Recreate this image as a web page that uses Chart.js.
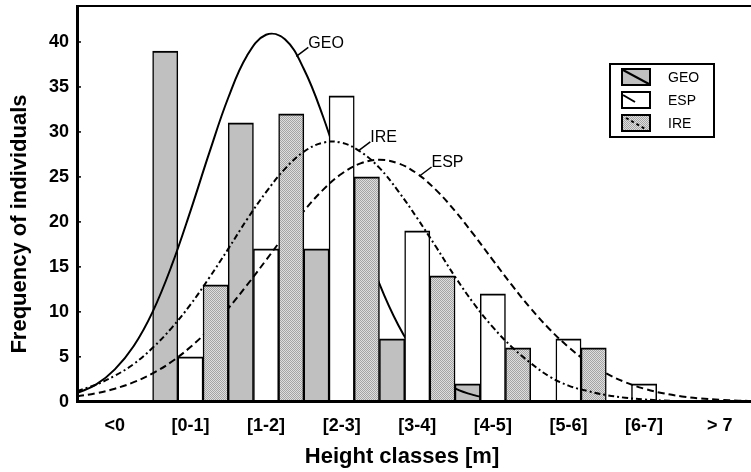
<!DOCTYPE html>
<html>
<head>
<meta charset="utf-8">
<script src="https://cdn.jsdelivr.net/npm/chart.js@4.4.1/dist/chart.umd.min.js"></script>
<style>
  html, body { margin: 0; padding: 0; background: #fff; overflow: hidden; }
  #wrap { width: 760px; height: 472px; }
</style>
</head>
<body>
<div id="wrap"><canvas id="grafica"></canvas></div>
<script>
// height classes and counts per site
const clases = ['<0', '[0-1]', '[1-2]', '[2-3]', '[3-4]', '[4-5]', '[5-6]', '[6-7]', '> 7'];
const geo = [0, 39, 31, 17, 7, 2, 0, 0, 0];
const esp = [0, 5, 17, 34, 19, 12, 7, 2, 0];
const ire = [0, 13, 32, 25, 14, 6, 6, 0, 0];

// fitted curves, every 0.25 m (x in metres)
const curvaX = [-1, -0.75, -0.5, -0.25, 0, 0.25, 0.5, 0.75, 1, 1.25, 1.5, 1.75, 2, 2.25, 2.5, 2.75,
  3, 3.25, 3.5, 3.75, 4, 4.25, 4.5, 4.75, 5, 5.25, 5.5, 5.75, 6, 6.25, 6.5, 6.75, 7, 7.25, 7.5, 7.75, 8];
const geoAjuste = [0.96, 1.9, 3.6, 6.2, 10.0, 15.1, 21.2, 27.7, 33.8, 38.5, 40.8, 40.3, 37.0, 31.8, 25.4, 18.9,
  13.1, 8.5, 5.1, 2.9, 1.5, 0.74, 0.34, 0.14, 0.05, 0.02, 0, 0, 0, 0, 0, 0, 0, 0, 0, 0, 0];
const espAjuste = [0.6, 0.95, 1.46, 2.18, 3.16, 4.45, 6.09, 8.07, 10.39, 12.99, 15.75, 18.55, 21.21, 23.53, 25.35, 26.5,
  26.9, 26.5, 25.35, 23.53, 21.21, 18.55, 15.75, 12.99, 10.39, 8.07, 6.09, 4.45, 3.16, 2.18, 1.46, 0.95, 0.6, 0.37, 0.22, 0.13, 0.07];
const ireAjuste = [1.2, 1.9, 2.9, 4.2, 6.0, 8.2, 10.8, 13.8, 17.0, 20.3, 23.3, 25.9, 27.8, 28.8, 28.8, 27.8,
  26.0, 23.4, 20.4, 17.2, 13.9, 10.9, 8.3, 6.1, 4.3, 2.8, 1.8, 1.2, 0.75, 0.45, 0.26, 0.14, 0.08, 0.04, 0.02, 0.01, 0];

const series = ['GEO', 'ESP', 'IRE'];
// where the curve labels hang off each curve [metres, frequency]
const etiquetas = [['GEO', 1.9, 38.4], ['IRE', 2.72, 27.9], ['ESP', 3.53, 25.1]];
const tituloX = 'Height classes [m]';
const tituloY = 'Frequency of individuals';

// position of a height (m) on the class axis: class k covers k-1 .. k m, '<0' is k = 0
const enClase = m => m + 0.5;

const FUENTE = "'Liberation Sans', Arial, sans-serif";
Chart.defaults.font.family = FUENTE;
Chart.defaults.color = '#000';

// stipple fill for IRE
const trama = document.createElement('canvas');
trama.width = 2; trama.height = 2;
const tctx = trama.getContext('2d');
tctx.fillStyle = '#dedede'; tctx.fillRect(0, 0, 2, 2);
tctx.fillStyle = '#a4a4a4'; tctx.fillRect(0, 0, 1, 1); tctx.fillRect(1, 1, 1, 1);
const punteado = tctx.createPattern(trama, 'repeat');

const rellenos = ['#c0c0c0', '#ffffff', punteado];
const trazos = [[], [7, 4], [6, 3, 2, 3]];

function puntos(ys) {
  return curvaX.map((m, i) => ({ x: enClase(m), y: ys[i] }));
}

function barra(nombre, datos, i) {
  return {
    type: 'bar', label: nombre, data: datos,
    backgroundColor: rellenos[i], borderColor: '#000',
    borderWidth: { top: 2, left: 1.5, right: 1.5, bottom: 0 },
    barPercentage: 1, categoryPercentage: 1,
    xAxisID: 'x', yAxisID: 'y'
  };
}

function curva(nombre, datos, i) {
  return {
    type: 'line', label: nombre + ' ajuste', data: puntos(datos), parsing: false,
    borderColor: '#000', borderWidth: 2, borderDash: trazos[i],
    pointRadius: 0, fill: false, tension: 0.4,
    xAxisID: 'x', yAxisID: 'y'
  };
}

// GEO bars, GEO curve, ESP bars, ESP curve, IRE bars, IRE curve
const ordenDibujo = [0, 3, 1, 4, 2, 5];

const capas = {
  id: 'capas',
  beforeDatasetsDraw(chart) {
    const { ctx, chartArea: a } = chart;
    ctx.save();
    ctx.beginPath();
    ctx.rect(a.left, a.top, a.right - a.left, a.bottom - a.top);
    ctx.clip();
    ordenDibujo.forEach(i => chart.getDatasetMeta(i).controller.draw());
    ctx.restore();
    return false;
  }
};

const notas = {
  id: 'notas',
  afterDraw(chart) {
    const { ctx, chartArea: a } = chart;
    const xs = chart.scales.x, ys = chart.scales.y;
    ctx.save();
    ctx.strokeStyle = '#000';
    ctx.fillStyle = '#000';
    ctx.textBaseline = 'middle';

    // small inward ticks on the y axis
    ctx.lineWidth = 1.5;
    ys.ticks.forEach(t => {
      if (t.value % 5 !== 0 || t.value === 0) return;
      const y = ys.getPixelForValue(t.value);
      ctx.beginPath();
      ctx.moveTo(a.left, y);
      ctx.lineTo(a.left + 4, y);
      ctx.stroke();
    });

    // axis titles (both sit off the axis centre in the original)
    ctx.font = 'bold 22px ' + FUENTE;
    ctx.textAlign = 'center';
    ctx.fillText(tituloX, a.left + 325, 457);
    ctx.save();
    ctx.translate(20, a.top + 218);
    ctx.rotate(-Math.PI / 2);
    ctx.fillText(tituloY, 0, 0);
    ctx.restore();
    ctx.textAlign = 'left';

    // curve labels
    ctx.lineWidth = 1.5;
    ctx.font = '16px ' + FUENTE;
    etiquetas.forEach(e => {
      const x0 = xs.getPixelForValue(enClase(e[1])), y0 = ys.getPixelForValue(e[2]);
      ctx.beginPath();
      ctx.moveTo(x0, y0);
      ctx.lineTo(x0 + 12, y0 - 9);
      ctx.stroke();
      ctx.fillText(e[0], x0 + 12, y0 - 13);
    });

    // legend box
    const lx = 610, ly = 64, lw = 104, lh = 73;
    ctx.fillStyle = '#fff';
    ctx.fillRect(lx, ly, lw, lh);
    ctx.lineWidth = 2;
    ctx.strokeRect(lx, ly, lw, lh);
    ctx.font = '14px ' + FUENTE;
    series.forEach((nombre, i) => {
      const cy = ly + 13 + i * 23;
      const sx = lx + 12, sy = cy - 8, sw = 28, sh = 16;
      ctx.fillStyle = rellenos[i];
      ctx.fillRect(sx, sy, sw, sh);
      ctx.lineWidth = 2;
      ctx.setLineDash([]);
      ctx.strokeRect(sx, sy, sw, sh);
      ctx.beginPath();
      if (i === 0) { ctx.moveTo(sx + 1, sy + 1); ctx.lineTo(sx + sw - 1, sy + sh - 1); }
      if (i === 1) { ctx.moveTo(sx + 1, sy + 3); ctx.lineTo(sx + 13, sy + 10); }
      if (i === 2) { ctx.setLineDash([3, 3]); ctx.moveTo(sx + 4, sy + 3); ctx.lineTo(sx + sw - 3, sy + sh - 1); }
      ctx.stroke();
      ctx.setLineDash([]);
      ctx.fillStyle = '#000';
      ctx.fillText(nombre, lx + 58, cy + 1);
    });
    ctx.restore();
  }
};

// no extra room for half labels at the axis ends
function sinRelleno(s) {
  s.paddingTop = 0; s.paddingBottom = 0; s.paddingLeft = 0; s.paddingRight = 0;
}

new Chart(document.getElementById('grafica'), {
  type: 'bar',
  data: {
    labels: clases,
    datasets: [
      barra('GEO', geo, 0),
      barra('ESP', esp, 1),
      barra('IRE', ire, 2),
      curva('GEO', geoAjuste, 0),
      curva('ESP', espAjuste, 1),
      curva('IRE', ireAjuste, 2)
    ]
  },
  options: {
    responsive: true,
    maintainAspectRatio: false,
    animation: false,
    layout: { padding: { left: 41, right: 2.5, top: 6, bottom: 21.8 } },
    plugins: { legend: { display: false }, tooltip: { enabled: false } },
    scales: {
      x: {
        type: 'category',
        position: 'bottom',
        offset: true,
        bounds: 'ticks',
        grid: { display: false, drawTicks: false },
        border: { display: true, color: '#000', width: 3, z: 1 },
        ticks: { font: { size: 18, weight: 'bold' }, padding: 13.4, autoSkip: false, maxRotation: 0 },
        afterFit: sinRelleno
      },
      // frame line along the top
      marco: {
        type: 'linear',
        position: 'top',
        offset: false,
        grid: { display: false, drawTicks: false },
        border: { display: true, color: '#000', width: 2, z: 1 },
        ticks: { display: false },
        afterFit: sinRelleno
      },
      y: {
        type: 'linear',
        min: 0, max: 44,
        offset: false,
        stacked: false,
        grid: { display: false, drawTicks: false },
        border: { display: true, color: '#000', width: 3, z: 1 },
        ticks: {
          stepSize: 5, padding: 8,
          font: { size: 18, weight: 'bold' },
          callback: v => (v % 5 === 0 ? v : null)
        },
        afterFit: sinRelleno
      }
    }
  },
  plugins: [capas, notas]
});
</script>
</body>
</html>
